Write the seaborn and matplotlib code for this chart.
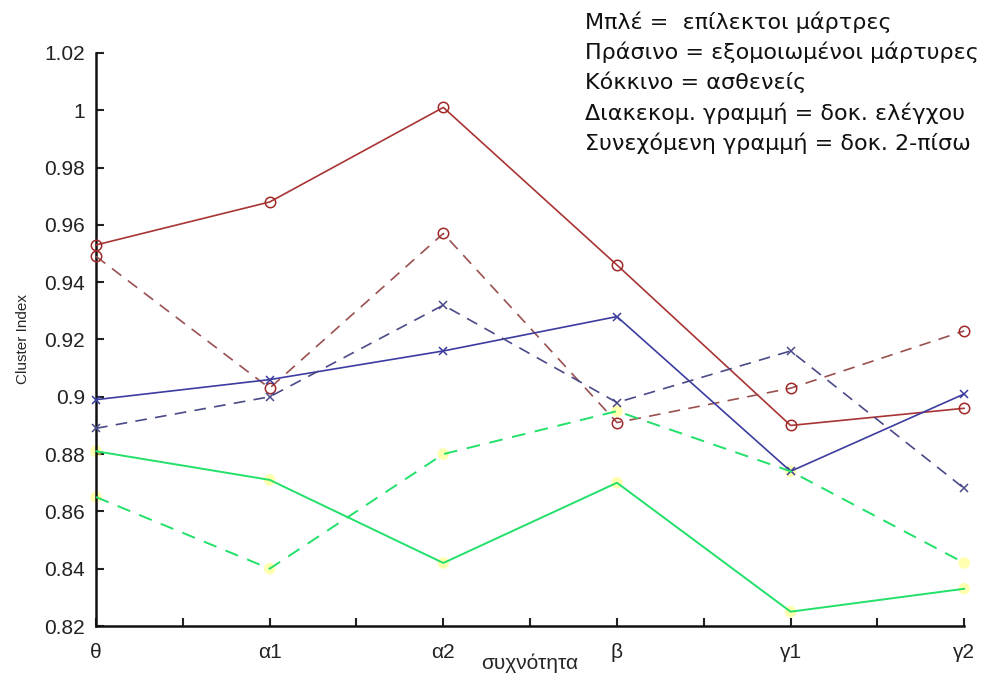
import matplotlib
matplotlib.use("Agg")
import matplotlib.pyplot as plt
import seaborn as sns
import numpy as np
from matplotlib.ticker import FixedLocator, FuncFormatter

sns.set_theme(style="white")
plt.rcParams['font.family'] = ['Liberation Sans', 'DejaVu Sans']

categories = ["θ", "α1", "α2", "β", "γ1", "γ2"]
red_solid = [0.953, 0.968, 1.001, 0.946, 0.890, 0.896]
red_dashed = [0.949, 0.903, 0.957, 0.891, 0.903, 0.923]
blue_solid = [0.899, 0.906, 0.916, 0.928, 0.874, 0.901]
blue_dashed = [0.889, 0.900, 0.932, 0.898, 0.916, 0.868]
green_solid = [0.881, 0.871, 0.842, 0.870, 0.825, 0.833]
green_dashed = [0.865, 0.840, 0.880, 0.895, 0.874, 0.842]
legend_lines = ["Μπλέ =  επίλεκτοι μάρτρες",
                "Πράσινο = εξομοιωμένοι μάρτυρες",
                "Κόκκινο = ασθενείς",
                "Διακεκομ. γραμμή = δοκ. ελέγχου",
                "Συνεχόμενη γραμμή = δοκ. 2-πίσω"]

fig = plt.figure(figsize=(9.9, 6.82), dpi=100)
ax = fig.add_axes([0.097, 0.0821, 0.877, 0.8402])
x = np.arange(len(categories))

dash = (0, (7, 5))
series = [
    (red_solid, '#a83434', '-', 'o', 'none', '#a02828', 7.5),
    (red_dashed, '#9a5050', dash, 'o', 'none', '#a02828', 7.5),
    (blue_solid, '#3c3ca0', '-', 'x', '#3c3ca0', '#3c3ca0', 6),
    (blue_dashed, '#4a4a88', dash, 'x', '#4a4a88', '#4a4a88', 6),
]
for vals, col, ls, mk, mfc, mec, ms in series:
    sns.lineplot(x=x, y=vals, ax=ax, color=col, linestyle=ls, linewidth=1.2,
                 marker=mk, markersize=ms,
                 markerfacecolor=mfc, markeredgecolor=mec, markeredgewidth=1.1,
                 clip_on=False, zorder=3)

for vals, ls in [(green_solid, '-'), (green_dashed, dash)]:
    sns.scatterplot(x=x, y=vals, ax=ax, color='#ffff70', s=70, alpha=0.55,
                    edgecolor='none', clip_on=False, zorder=2)
    sns.lineplot(x=x, y=vals, ax=ax, color='#22e06a', linestyle=ls, linewidth=1.4,
                 clip_on=False, zorder=3)

ax.set_xlim(0, 5)
ax.set_ylim(0.82, 1.02)
ax.xaxis.set_major_locator(FixedLocator(list(x)))
ax.set_xticklabels(categories)
ax.xaxis.set_minor_locator(FixedLocator(list(np.arange(0.5, 5, 1.0))))
ax.yaxis.set_major_locator(FixedLocator(list(np.round(np.arange(0.82, 1.021, 0.02), 2))))
ax.yaxis.set_major_formatter(FuncFormatter(lambda v, p: f"{v:g}"))
ax.tick_params(axis='both', which='both', direction='in', length=6, width=1.5,
               colors='#222222', labelsize=15, pad=8, bottom=True, left=True)
ax.tick_params(axis='x', which='major', pad=12)
for s in ['top', 'right']:
    ax.spines[s].set_visible(False)
for s in ['left', 'bottom']:
    ax.spines[s].set_color('#111111')
    ax.spines[s].set_linewidth(1.8)

ax.set_xlabel("συχνότητα", fontsize=15, labelpad=-6)
ax.set_ylabel("Cluster Index", fontsize=11, labelpad=10)

for i, t in enumerate(legend_lines):
    fig.text(0.591, 0.968 - i * 0.0445, t, fontsize=16, va='center', ha='left',
             color='#111111', family=['DejaVu Sans'])

fig.savefig("out.png", dpi=100)
